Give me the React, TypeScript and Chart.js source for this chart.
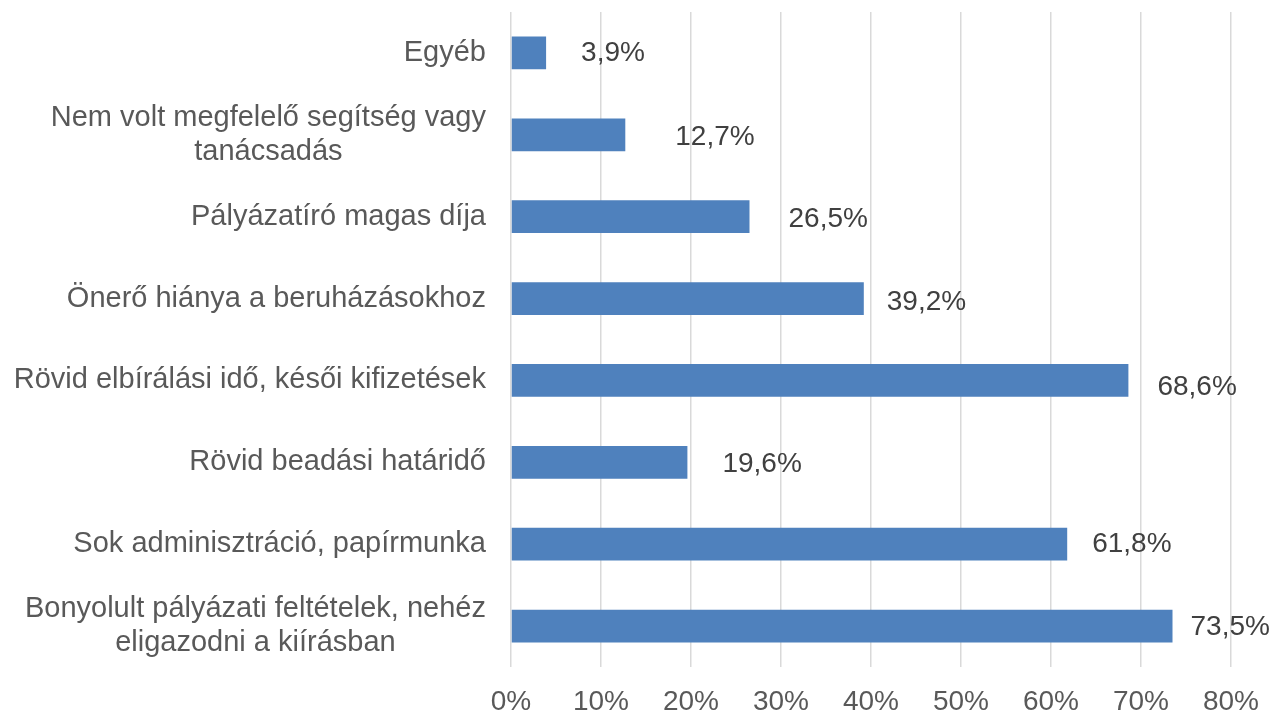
import React, { useEffect, useRef } from "react";
import { Chart, registerables } from "chart.js";

Chart.register(...registerables);

const categories: string[][] = [
  ["Egyéb"],
  ["Nem volt megfelelő segítség vagy", "tanácsadás"],
  ["Pályázatíró magas díja"],
  ["Önerő hiánya a beruházásokhoz"],
  ["Rövid elbírálási idő, késői kifizetések"],
  ["Rövid beadási határidő"],
  ["Sok adminisztráció, papírmunka"],
  ["Bonyolult pályázati feltételek, nehéz", "eligazodni a kiírásban"],
];

const values: number[] = [3.9, 12.7, 26.5, 39.2, 68.6, 19.6, 61.8, 73.5];

const valueLabels: string[] = ["3,9%", "12,7%", "26,5%", "39,2%", "68,6%", "19,6%", "61,8%", "73,5%"];

const xTicks: number[] = [0, 10, 20, 30, 40, 50, 60, 70, 80];

// label placement (pixel offsets from bar end / bar centre)
const labelDx: number[] = [35, 50, 39, 23, 29, 35, 25, 18];
const labelDy: number[] = [0, 2.5, 3, 4, 6.5, 2, 0, 1];

const FONT = '"Liberation Sans", Arial, sans-serif';

const labelsPlugin = {
  id: "customLabels",
  afterDraw(chart: any) {
    const ctx = chart.ctx;
    const xs = chart.scales.x;
    const ys = chart.scales.y;
    ctx.save();
    // category labels
    ctx.font = `29px ${FONT}`;
    ctx.fillStyle = "#595959";
    ctx.textBaseline = "middle";
    ctx.textAlign = "center";
    const rightEdge = chart.chartArea.left - 25;
    const lh = 33.5;
    categories.forEach((lines, i) => {
      const y = ys.getPixelForValue(i);
      const w = Math.max(...lines.map((l) => ctx.measureText(l).width));
      const cx = rightEdge - w / 2;
      const y0 = y - ((lines.length - 1) * lh) / 2;
      lines.forEach((l, j) => ctx.fillText(l, cx, y0 + j * lh));
    });
    // value labels
    ctx.font = `28px ${FONT}`;
    ctx.fillStyle = "#404040";
    ctx.textAlign = "left";
    values.forEach((v, i) => {
      const x = xs.getPixelForValue(v) + labelDx[i];
      const y = ys.getPixelForValue(i) + labelDy[i];
      ctx.fillText(valueLabels[i], x, y);
    });
    ctx.restore();
  },
};

export default function App() {
  const ref = useRef<HTMLCanvasElement | null>(null);
  useEffect(() => {
    if (!ref.current) return;
    const chart = new Chart(ref.current, {
      type: "bar",
      data: {
        labels: categories.map((c) => c.join(" ")),
        datasets: [
          {
            data: values,
            backgroundColor: "#4f81bd",
            borderWidth: 0,
            barPercentage: 0.4,
            categoryPercentage: 1,
          },
        ],
      },
      options: {
        indexAxis: "y",
        animation: false,
        responsive: false,
        layout: { padding: { left: 511, right: 43, top: 12, bottom: 0 } },
        plugins: { legend: { display: false }, tooltip: { enabled: false } },
        scales: {
          x: {
            min: 0,
            max: 80,
            afterBuildTicks: (scale: any) => {
              scale.ticks = xTicks.map((v) => ({ value: v }));
            },
            afterFit: (scale: any) => {
              scale.height = 46;
              scale.paddingRight = 0;
              scale.paddingLeft = 0;
            },
            grid: { color: "#d9d9d9", lineWidth: 1.5, drawTicks: false },
            border: { display: false },
            ticks: {
              padding: 18,
              color: "#595959",
              font: { family: FONT, size: 28 },
              callback: (v: any) => `${v}%`,
            },
          },
          y: {
            display: false,
          },
        },
      },
      plugins: [labelsPlugin],
    });
    return () => chart.destroy();
  }, []);
  return (
    <div style={{ position: "fixed", left: 0, top: 0, width: 1274, height: 713, background: "#fff" }}>
      <canvas ref={ref} width={1274} height={713} />
    </div>
  );
}
